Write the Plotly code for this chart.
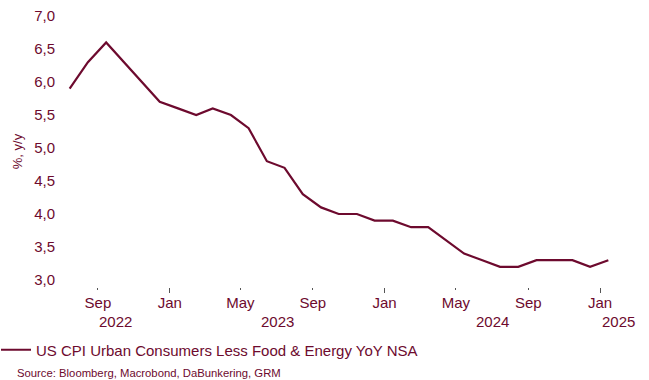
import plotly.graph_objects as go
import pandas as pd

dates = pd.date_range("2022-07-01", "2025-01-01", freq="MS") + pd.Timedelta(days=14)
values = [5.9, 6.3, 6.6, 6.3, 6.0, 5.7,
          5.6, 5.5, 5.6, 5.5, 5.3, 4.8, 4.7, 4.3, 4.1, 4.0, 4.0, 3.9,
          3.9, 3.8, 3.8, 3.6, 3.4, 3.3, 3.2, 3.2, 3.3, 3.3, 3.3, 3.2,
          3.3]
series_name = "US CPI Urban Consumers Less Food & Energy YoY NSA"
source_text = "Source: Bloomberg, Macrobond, DaBunkering, GRM"
month_ticks = ["2022-09-01", "2023-01-01", "2023-05-01", "2023-09-01",
               "2024-01-01", "2024-05-01", "2024-09-01", "2025-01-01"]
month_labels = ["Sep", "Jan", "May", "Sep", "Jan", "May", "Sep", "Jan"]
year_ticks = ["2023-01-01", "2024-01-01", "2025-01-01"]
years = ["2022", "2023", "2024", "2025"]
y_ticks = [3.0, 3.5, 4.0, 4.5, 5.0, 5.5, 6.0, 6.5, 7.0]

x_range = ["2022-07-02", "2025-03-03"]
C = "#6d0a2e"
FONT = "Liberation Sans, Arial, sans-serif"
W, H = 649, 380
ML, MR, MT, MB = 62, 13, 16, 93
PW, PH = W - ML - MR, H - MT - MB

fig = go.Figure()
fig.add_trace(go.Scatter(x=dates, y=values, mode="lines", name=series_name,
                         line=dict(color=C, width=2.2)))

# year labels centred on the visible span of each year
bounds = [pd.Timestamp(x_range[0])] + [pd.Timestamp(t) for t in year_ticks] + [pd.Timestamp(x_range[1])]
for i, yr in enumerate(years):
    mid = bounds[i] + (bounds[i + 1] - bounds[i]) / 2
    fig.add_annotation(x=mid, y=0, xref="x", yref="paper", text=yr, showarrow=False,
                       yanchor="middle", yshift=-34, font=dict(size=15, color=C, family=FONT))

fig.add_annotation(x=(15 - ML) / PW, y=-(373 - (MT + PH)) / PH, xref="paper", yref="paper",
                   text=source_text, showarrow=False, xanchor="left", yanchor="middle",
                   font=dict(size=11.3, color=C, family=FONT))

fig.update_layout(
    width=W, height=H,
    margin=dict(l=ML, r=MR, t=MT, b=MB, autoexpand=False),
    paper_bgcolor="white", plot_bgcolor="white",
    separators=",.",
    font=dict(family=FONT, size=15, color=C),
    showlegend=True,
    legend=dict(orientation="h", x=(-4 - ML) / PW, xref="paper", y=1 - 350 / H, yref="container",
                xanchor="left", yanchor="middle", font=dict(size=15, color=C, family=FONT),
                itemwidth=30, bgcolor="rgba(0,0,0,0)"),
    xaxis=dict(range=x_range, tickmode="array", tickvals=month_ticks, ticktext=month_labels,
               ticks="outside", ticklen=2, tickcolor="#555555", tickwidth=1,
               showgrid=False, zeroline=False, showline=False,
               tickfont=dict(size=15, color=C, family=FONT),
               minor=dict(tickmode="array", tickvals=year_ticks, ticks="outside", ticklen=5,
                          tickcolor="#555555", tickwidth=1, showgrid=False)),
    yaxis=dict(range=[2.894, 7.0], tickmode="array", tickvals=y_ticks, tickformat=".1f",
               showgrid=False, zeroline=False, showline=False, ticks="",
               ticklabelstandoff=6,
               tickfont=dict(size=15, color=C, family=FONT),
               title=dict(text="%, y/y", font=dict(size=13, color=C, family=FONT), standoff=8)),
)

fig.write_html("out.html", config={"displayModeBar": False},
               post_script="document.body.style.margin='0px';")
